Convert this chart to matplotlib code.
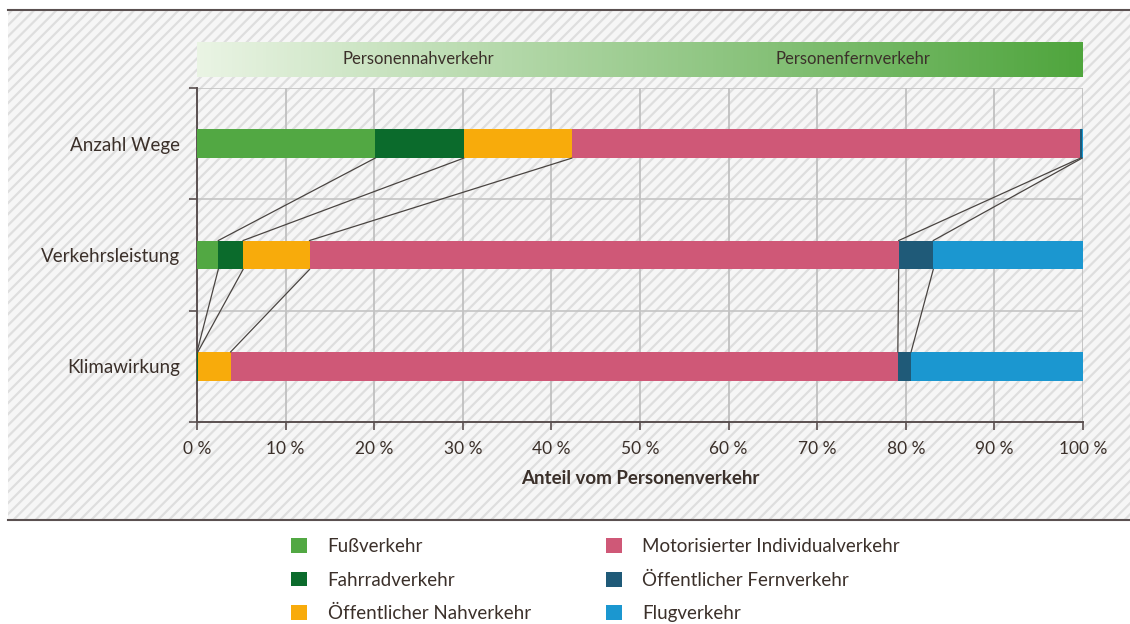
import numpy as np
import matplotlib
import matplotlib.pyplot as plt
from matplotlib.patches import Rectangle, Patch
from matplotlib.lines import Line2D
from matplotlib.colors import LinearSegmentedColormap

plt.rcParams['font.family'] = ['Lato', 'DejaVu Sans']
plt.rcParams['hatch.linewidth'] = 1.6

# data (shares in percent)
categories = ['Anzahl Wege', 'Verkehrsleistung', 'Klimawirkung']
series = ['Fußverkehr', 'Fahrradverkehr', 'Öffentlicher Nahverkehr',
          'Motorisierter Individualverkehr', 'Öffentlicher Fernverkehr', 'Flugverkehr']
fuss = [20.1, 2.4, 0.0]
fahrrad = [10.0, 2.8, 0.1]
oepnv = [12.2, 7.5, 3.7]
miv = [57.4, 66.5, 75.3]
oepfv = [0.2, 3.9, 1.5]
flug = [0.1, 16.9, 19.4]
colors = ['#52a843', '#0b6b2c', '#f8ab0b', '#cf5877', '#1f5a78', '#1b97d0']
band_labels = ['Personennahverkehr', 'Personenfernverkehr']
band_pos = [25, 74]
xticks = list(range(0, 101, 10))

TXT = '#3b302a'
values = np.array([fuss, fahrrad, oepnv, miv, oepfv, flug])
W, H = 1130, 624
fig = plt.figure(figsize=(W / 100, H / 100), dpi=100)
fig.patch.set_facecolor('white')

# hatched background panel
fig.add_artist(Rectangle((8 / W, 1 - 520 / H), 1 - 8 / W, 510 / H, transform=fig.transFigure,
                         facecolor='#f6f6f6', edgecolor='#dedede', hatch='///', lw=0, zorder=0))
for yy in (10, 520):
    fig.add_artist(Line2D([8 / W, 1], [1 - yy / H] * 2, transform=fig.transFigure,
                          color='#5a5050', lw=1.5, zorder=1))

ax = fig.add_axes([197 / W, 1 - 422 / H, 886 / W, 334 / H])
ax.set_facecolor('none')
ax.set_zorder(2)

bar_h = 0.26
ypos = np.arange(len(categories))
left = np.zeros(len(categories))
for vals, col, name in zip(values, colors, series):
    ax.barh(ypos, vals, left=left, height=bar_h, color=col, zorder=3, label=name)
    left = left + vals

# connector lines between segment boundaries of neighbouring bars
cum = np.cumsum(values, axis=0)
for i in range(len(categories) - 1):
    for k in range(len(series) - 1):
        ax.plot([cum[k, i], cum[k, i + 1]], [i + bar_h / 2, i + 1 - bar_h / 2],
                color='#4a4542', lw=0.9, zorder=4)

ax.set_xlim(0, 100)
ax.set_ylim(len(categories) - 0.5, -0.5)
ax.set_xticks(xticks)
ax.set_xticklabels([f'{t} %' for t in xticks], fontsize=12.5, color=TXT)
ax.set_yticks(ypos)
ax.set_yticklabels(categories, fontsize=13.5, color=TXT)
ax.set_yticks(np.arange(len(categories) + 1) - 0.5, minor=True)
ax.tick_params(axis='y', which='major', length=0, pad=12)
ax.tick_params(axis='y', which='minor', length=6, color='#5a5050', width=1.2)
ax.tick_params(axis='x', length=6, color='#5a5050', width=1.2, pad=8)
ax.grid(axis='x', color='#bdbdbd', lw=1.2, zorder=1)
ax.grid(axis='y', which='minor', color='#c4c4c4', lw=1.2, zorder=1)
for s in ('top', 'right'):
    ax.spines[s].set_visible(False)
for s in ('left', 'bottom'):
    ax.spines[s].set_color('#5a5050')
    ax.spines[s].set_linewidth(1.4)
ax.set_xlabel('Anteil vom Personenverkehr', fontsize=13.5, fontweight='bold', color=TXT, labelpad=9)

# gradient band on top
bax = fig.add_axes([197 / W, 1 - 77 / H, 886 / W, 35 / H])
cmap = LinearSegmentedColormap.from_list('band', ['#eaf4e4', '#4fa53d'])
bax.imshow(np.linspace(0, 1, 256).reshape(1, -1), cmap=cmap, extent=[0, 100, 0, 1], aspect='auto')
bax.set_xlim(0, 100)
bax.axis('off')
for lab, p in zip(band_labels, band_pos):
    bax.text(p, 0.5, lab, ha='center', va='center', fontsize=12, color=TXT)

handles = [Patch(facecolor=c, edgecolor='none') for c in colors]
fig.legend(handles, series, loc='upper left', bbox_to_anchor=(291 / W, 1 - 538 / H), ncol=2,
           frameon=False, fontsize=13.5, handlelength=0.85, handleheight=0.85, handletextpad=1.1,
           labelspacing=0.88, columnspacing=4.0, borderpad=0, borderaxespad=0, labelcolor=TXT)

fig.savefig('out.png', dpi=100)
